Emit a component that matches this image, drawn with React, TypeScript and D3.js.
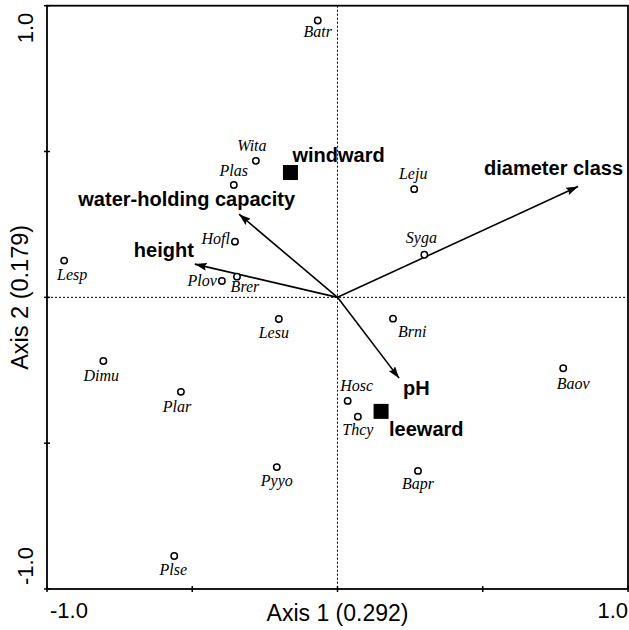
import React from 'react';
import * as d3 from 'd3';

// species scores (axis 1, axis 2)
const speciesNames = ['Batr', 'Wita', 'Plas', 'Hofl', 'Lesp', 'Plov', 'Brer', 'Leju', 'Syga', 'Lesu',
  'Dimu', 'Plar', 'Pyyo', 'Plse', 'Brni', 'Baov', 'Hosc', 'Thcy', 'Bapr'];
const speciesX = [-0.068, -0.281, -0.357, -0.353, -0.941, -0.398, -0.346, 0.264, 0.299, -0.202,
  -0.806, -0.539, -0.209, -0.562, 0.191, 0.777, 0.035, 0.070, 0.277];
const speciesY = [0.949, 0.468, 0.385, 0.191, 0.126, 0.056, 0.071, 0.371, 0.146, -0.074,
  -0.218, -0.324, -0.582, -0.887, -0.073, -0.243, -0.355, -0.409, -0.595];

// environmental arrows
const envNames = ['diameter class', 'water-holding capacity', 'height', 'pH'];
const envX = [0.828, -0.339, -0.491, 0.212];
const envY = [0.380, 0.285, 0.114, -0.277];

// nominal variable centroids
const groupNames = ['windward', 'leeward'];
const groupX = [-0.162, 0.150];
const groupY = [0.428, -0.391];

const tickValues = [-1, -0.5, 0, 0.5, 1];
const axisTitles = ['Axis 1 (0.292)', 'Axis 2 (0.179)'];

// label placement: [dx, dy, anchor]
const speciesLabelPos: Record<string, [number, number, string]> = {
  Batr: [0, 16, 'middle'], Wita: [-4, -10, 'middle'], Plas: [0, -9, 'middle'], Hofl: [-5, 2, 'end'],
  Lesp: [8, 19, 'middle'], Plov: [-5, 5, 'end'], Brer: [8, 15, 'middle'], Leju: [-1, -10, 'middle'],
  Syga: [-3, -12, 'middle'], Lesu: [-5, 19, 'middle'], Dimu: [-2, 20, 'middle'], Plar: [-4, 20, 'middle'],
  Pyyo: [0, 19, 'middle'], Plse: [-1, 19, 'middle'], Brni: [5, 18, 'start'], Baov: [10, 21, 'middle'],
  Hosc: [9, -10, 'middle'], Thcy: [0, 18, 'middle'], Bapr: [0, 18, 'middle'],
};
const envLabelPos: Record<string, [number, number, string]> = {
  'diameter class': [45, -12, 'end'], 'water-holding capacity': [56, -8, 'end'],
  height: [-1, -7, 'end'], pH: [4, 17, 'start'],
};
const groupLabelPos: Record<string, [number, number, string]> = {
  windward: [2, -11, 'start'], leeward: [8, 25, 'start'],
};

export default function App() {
  const width = 629;
  const height = 630;
  const x = d3.scaleLinear().domain([-1, 1]).range([47, 628]);
  const y = d3.scaleLinear().domain([-1, 1]).range([589, 5.7]);
  const sans = 'Arial, "Liberation Sans", sans-serif';
  const serif = '"Times New Roman", "Liberation Serif", serif';

  return (
    <svg width={width} height={height} style={{ position: 'absolute', left: 0, top: 0, background: '#fff' }}>
      <defs>
        <marker id="arrow" viewBox="0 0 12 8" refX={12} refY={4} markerWidth={12} markerHeight={8}
          markerUnits="userSpaceOnUse" orient="auto">
          <path d="M0,0 L12,4 L0,8 L2,4 Z" fill="#000" />
        </marker>
      </defs>

      {/* zero lines */}
      <line x1={x(0)} x2={x(0)} y1={y(1)} y2={y(-1)} stroke="#000" strokeWidth={1} strokeDasharray="2,2" />
      <line x1={x(-1)} x2={x(1)} y1={y(0)} y2={y(0)} stroke="#000" strokeWidth={1} strokeDasharray="2,2" />

      {/* frame */}
      <rect x={x(-1)} y={y(1)} width={x(1) - x(-1)} height={y(-1) - y(1)} fill="none" stroke="#000" strokeWidth={1.8} />

      {/* ticks */}
      {tickValues.map(t => (
        <line key={'xt' + t} x1={x(t)} x2={x(t)} y1={y(-1) - 3} y2={y(-1) + 3} stroke="#000" strokeWidth={1.5} />
      ))}
      {tickValues.map(t => (
        <line key={'yt' + t} x1={x(-1) - 3} x2={x(-1) + 3} y1={y(t)} y2={y(t)} stroke="#000" strokeWidth={1.5} />
      ))}

      {/* tick labels */}
      <text x={x(-1) + 3} y={618} fontFamily={sans} fontSize={22}>-1.0</text>
      <text x={x(1)} y={618} fontFamily={sans} fontSize={22} textAnchor="end">1.0</text>
      <text transform={`translate(33,${y(1) + 7}) rotate(-90)`} fontFamily={sans} fontSize={22} textAnchor="end">1.0</text>
      <text transform={`translate(33,${y(-1) - 4}) rotate(-90)`} fontFamily={sans} fontSize={22}>-1.0</text>

      {/* axis titles */}
      <text x={(x(-1) + x(1)) / 2} y={621} fontFamily={sans} fontSize={23} textAnchor="middle">{axisTitles[0]}</text>
      <text transform={`translate(28,${y(0)}) rotate(-90)`} fontFamily={sans} fontSize={23.5} textAnchor="middle">{axisTitles[1]}</text>

      {/* environmental arrows */}
      {envNames.map((n, i) => {
        const [dx, dy, anchor] = envLabelPos[n];
        return (
          <g key={n}>
            <line x1={x(0)} y1={y(0)} x2={x(envX[i])} y2={y(envY[i])} stroke="#000" strokeWidth={1.6} markerEnd="url(#arrow)" />
            <text x={x(envX[i]) + dx} y={y(envY[i]) + dy} fontFamily={sans} fontSize={20} fontWeight="bold"
              textAnchor={anchor}>{n}</text>
          </g>
        );
      })}

      {/* group centroids */}
      {groupNames.map((n, i) => {
        const [dx, dy, anchor] = groupLabelPos[n];
        return (
          <g key={n}>
            <rect x={x(groupX[i]) - 7.5} y={y(groupY[i]) - 7.5} width={15} height={15} fill="#000" />
            <text x={x(groupX[i]) + dx} y={y(groupY[i]) + dy} fontFamily={sans} fontSize={20} fontWeight="bold"
              textAnchor={anchor}>{n}</text>
          </g>
        );
      })}

      {/* species */}
      {speciesNames.map((n, i) => {
        const [dx, dy, anchor] = speciesLabelPos[n];
        return (
          <g key={n}>
            <circle cx={x(speciesX[i])} cy={y(speciesY[i])} r={3.2} fill="#fff" stroke="#000" strokeWidth={1.5} />
            <text x={x(speciesX[i]) + dx} y={y(speciesY[i]) + dy} fontFamily={serif} fontStyle="italic"
              fontSize={16} textAnchor={anchor}>{n}</text>
          </g>
        );
      })}
    </svg>
  );
}
